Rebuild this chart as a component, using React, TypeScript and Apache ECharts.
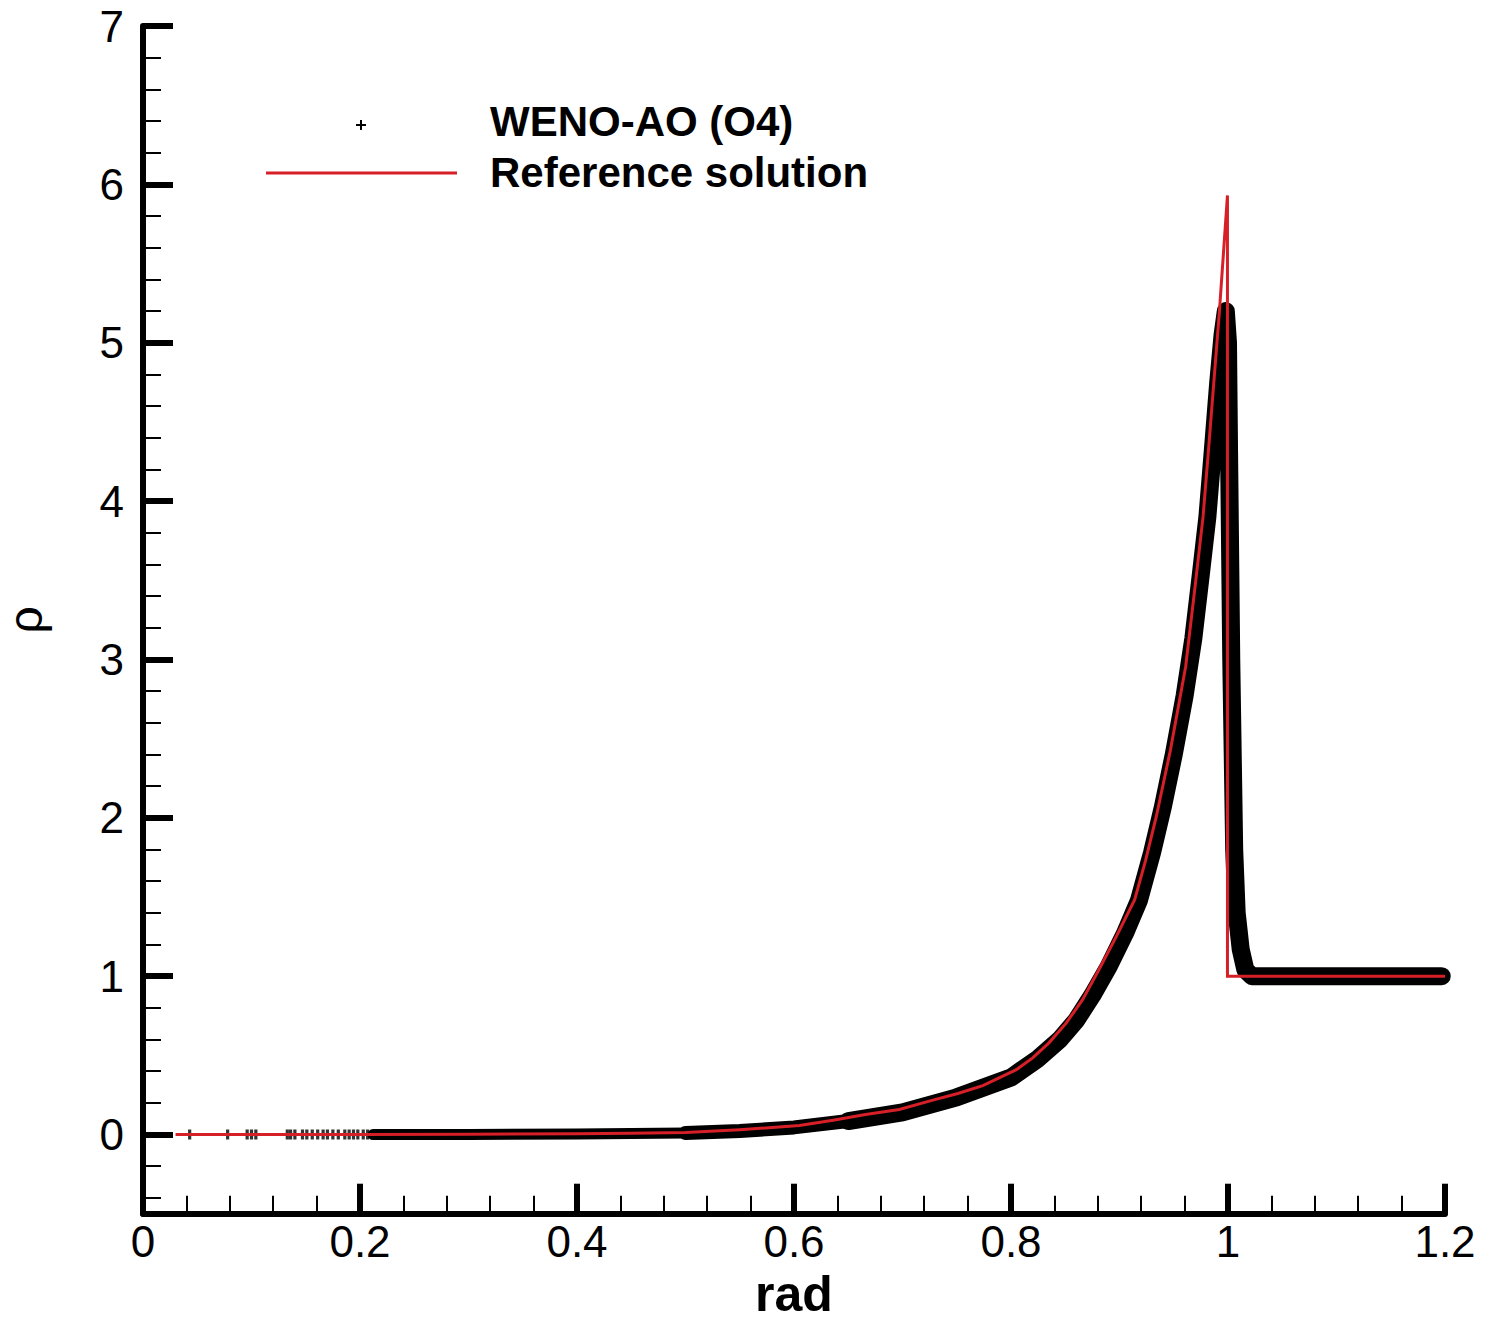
import React, { useEffect, useRef } from "react";
import * as echarts from "echarts";

// ---------- data ----------
// x-axis tick values (labels shown as-is)
const xTickValues = [0, 0.2, 0.4, 0.6, 0.8, 1, 1.2];
// y-axis major ticks / labels
const yMajorValues = [0, 1, 2, 3, 4, 5, 6, 7];
// y-axis minor ticks (every 0.2 between the majors)
const yMinorValues = [
  -0.4, -0.2, 0.2, 0.4, 0.6, 0.8, 1.2, 1.4, 1.6, 1.8, 2.2, 2.4, 2.6, 2.8,
  3.2, 3.4, 3.6, 3.8, 4.2, 4.4, 4.6, 4.8, 5.2, 5.4, 5.6, 5.8, 6.2, 6.4, 6.6, 6.8,
];

// Reference solution (red line)
const refX = [
  0.03, 0.1, 0.2, 0.3, 0.4, 0.45, 0.5, 0.55, 0.605, 0.636, 0.666, 0.697, 0.728,
  0.751, 0.774, 0.805, 0.82, 0.835, 0.851, 0.866, 0.881, 0.897, 0.914, 0.924,
  0.934, 0.947, 0.961, 0.97, 0.977, 0.982, 0.992, 0.9995, 0.9995, 1.2,
];
const refRho = [
  0, 0, 0.0005, 0.002, 0.005, 0.008, 0.013, 0.03, 0.057, 0.09, 0.126, 0.158,
  0.217, 0.259, 0.309, 0.41, 0.484, 0.579, 0.705, 0.852, 1.04, 1.25, 1.483,
  1.73, 2.01, 2.43, 2.956, 3.48, 3.9, 4.32, 5.19, 5.93, 1.0, 1.0,
];

// WENO-AO (O4): isolated scatter points near the origin
const sparseX = [
  0.043, 0.078, 0.096, 0.1, 0.104, 0.133, 0.136, 0.14, 0.147, 0.151, 0.156,
  0.161, 0.166, 0.17, 0.175, 0.18, 0.186, 0.19, 0.194, 0.198, 0.203, 0.207,
];
const sparseRho = [
  0, 0, 0, 0, 0, 0, 0, 0, 0, 0, 0, 0, 0, 0, 0, 0, 0, 0, 0, 0, 0, 0,
];

// WENO-AO (O4): centre of the dense band of scattered cell values
const bandLowX = [0.212, 0.3, 0.4, 0.5];
const bandLowRho = [0, 0, 0.003, 0.01];
const bandMidX = [0.5, 0.55, 0.6, 0.65];
const bandMidRho = [0.01, 0.022, 0.045, 0.085];
const bandHighX = [
  0.65, 0.7, 0.75, 0.8, 0.825, 0.845, 0.86, 0.875, 0.89, 0.905, 0.918, 0.93,
  0.94, 0.95, 0.96, 0.968, 0.975, 0.981, 0.986, 0.991, 0.995, 0.998, 1.0,
  1.001, 1.003, 1.0057, 1.008, 1.0117, 1.016, 1.022, 1.197,
];
const bandHighRho = [
  0.085, 0.14, 0.235, 0.36, 0.48, 0.6, 0.72, 0.88, 1.06, 1.27, 1.48, 1.78,
  2.07, 2.4, 2.77, 3.13, 3.54, 3.9, 4.32, 4.75, 5.05, 5.2, 5.0, 4.3, 3.0, 1.8,
  1.4, 1.17, 1.04, 1.0, 1.0,
];

const FONT = "'Liberation Sans', Arial, Helvetica, sans-serif";
const RED = "#d71f27";
const pairs = (xs: number[], ys: number[]) => xs.map((x, i) => [x, ys[i]]);

const plusPath = "path://M3.4,0H6.6V3.4H10V6.6H6.6V10H3.4V6.6H0V3.4H3.4Z";

export default function App() {
  const ref = useRef<HTMLDivElement>(null);

  useEffect(() => {
    if (!ref.current) return;
    const chart = echarts.init(ref.current, null, { renderer: "svg" });

    const bandLine = (name: string, xs: number[], ys: number[], w: number) => ({
      name,
      type: "line",
      data: pairs(xs, ys),
      showSymbol: false,
      symbol: "none",
      z: 2,
      lineStyle: { color: "#000", width: w, cap: "round", join: "round" },
      silent: true,
    });

    const option: any = {
      animation: false,
      backgroundColor: "#fff",
      grid: {
        left: 143,
        right: 53,
        top: 26,
        bottom: 107.3,
        containLabel: false,
        outerBoundsMode: "none",
      },
      xAxis: {
        type: "value",
        min: 0,
        max: 1.2,
        interval: 0.2,
        axisLine: { show: true, onZero: false, lineStyle: { color: "#000", width: 6 } },
        axisTick: {
          show: true,
          inside: true,
          length: 30,
          lineStyle: { color: "#000", width: 6 },
        },
        minorTick: { show: true, splitNumber: 5, length: 18, lineStyle: { color: "#000", width: 2 } },
        axisLabel: {
          show: true,
          customValues: xTickValues,
          fontSize: 44,
          color: "#000",
          fontFamily: FONT,
          margin: 6,
        },
        splitLine: { show: false },
        name: "rad",
        nameLocation: "middle",
        nameGap: 46,
        nameTextStyle: {
          fontSize: 50,
          lineHeight: 50,
          fontWeight: "bold",
          color: "#000",
          fontFamily: FONT,
        },
      },
      yAxis: [
        {
          type: "value",
          min: -0.5,
          max: 7,
          position: "left",
          axisLine: { show: true, onZero: false, lineStyle: { color: "#000", width: 6 } },
          axisTick: {
            show: true,
            inside: true,
            length: 30,
            customValues: yMajorValues,
            lineStyle: { color: "#000", width: 6 },
          },
          minorTick: { show: false },
          axisLabel: {
            show: true,
            customValues: yMajorValues,
            fontSize: 44,
            color: "#000",
            fontFamily: FONT,
            margin: 19,
          },
          splitLine: { show: false },
          name: "ρ",
          nameLocation: "middle",
          nameRotate: 90,
          nameGap: 94,
          nameTextStyle: { fontSize: 48, lineHeight: 48, color: "#000", fontFamily: FONT },
        },
        {
          type: "value",
          min: -0.5,
          max: 7,
          position: "left",
          offset: 0,
          axisLine: { show: false },
          axisTick: {
            show: true,
            inside: true,
            length: 18,
            customValues: yMinorValues,
            lineStyle: { color: "#000", width: 2 },
          },
          minorTick: { show: false },
          axisLabel: { show: false },
          splitLine: { show: false },
        },
      ],
      series: [
        {
          name: "WENO-AO (O4)",
          type: "scatter",
          data: pairs(sparseX, sparseRho),
          symbol: plusPath,
          symbolSize: 10,
          itemStyle: { color: "#000" },
          z: 2,
          silent: true,
        },
        bandLine("WENO-AO (O4)", bandLowX, bandLowRho, 11),
        bandLine("WENO-AO (O4)", bandMidX, bandMidRho, 14),
        bandLine("WENO-AO (O4)", bandHighX, bandHighRho, 18),
        {
          name: "Reference solution",
          type: "line",
          data: pairs(refX, refRho),
          showSymbol: false,
          symbol: "none",
          z: 5,
          lineStyle: { color: RED, width: 3, join: "miter" },
          silent: true,
        },
      ],
      graphic: [
        {
          type: "line",
          shape: { x1: 356, y1: 125, x2: 366, y2: 125 },
          style: { stroke: "#000", lineWidth: 2 },
        },
        {
          type: "line",
          shape: { x1: 361, y1: 120, x2: 361, y2: 130 },
          style: { stroke: "#000", lineWidth: 2 },
        },
        {
          type: "text",
          x: 490,
          y: 121,
          style: {
            text: "WENO-AO (O4)",
            font: `bold 42px ${FONT}`,
            fill: "#000",
            verticalAlign: "middle",
          },
        },
        {
          type: "line",
          shape: { x1: 266, y1: 173, x2: 457, y2: 173 },
          style: { stroke: RED, lineWidth: 3 },
        },
        {
          type: "text",
          x: 490,
          y: 172,
          style: {
            text: "Reference solution",
            font: `bold 42px ${FONT}`,
            fill: "#000",
            verticalAlign: "middle",
          },
        },
      ],
    };

    chart.setOption(option);
    return () => chart.dispose();
  }, []);

  return (
    <div
      ref={ref}
      style={{ position: "absolute", left: 0, top: 0, width: 1498, height: 1321, background: "#fff" }}
    />
  );
}
